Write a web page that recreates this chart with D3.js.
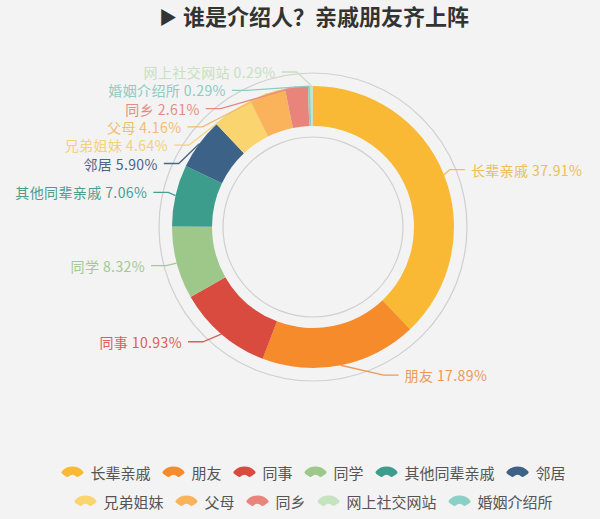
<!DOCTYPE html>
<html>
<head>
<meta charset="utf-8">
<script src="https://cdn.jsdelivr.net/npm/d3@7/dist/d3.min.js"></script>
<style>
  html, body { margin: 0; padding: 0; background: #f3f3f3; }
  svg { display: block; }
  text { font-family: "Noto Sans CJK SC", "Noto Sans", sans-serif; }
</style>
</head>
<body>
<svg id="chart" width="600" height="519"></svg>
<script>
// ---- data (legend order) ----
const categories = ['长辈亲戚','朋友','同事','同学','其他同辈亲戚','邻居','兄弟姐妹','父母','同乡','网上社交网站','婚姻介绍所'];
const values     = [37.91, 17.89, 10.93, 8.32, 7.06, 5.90, 4.64, 4.16, 2.61, 0.29, 0.29];
const colors     = ['#F9B935','#F68B2C','#D94A3F','#9DC88A','#3D9D8D','#3D6288','#FAD46F','#FAB35A','#E8847A','#C6E3BF','#8BD0C6'];
const labelColors = ['#EDBE55','#EE9A55','#DD5E58','#A3C994','#4A9E90','#4A6685','#F2D27A','#F3BC6E','#E48C84','#C8E0C2','#8CCCC3'];
// clockwise order of slices around the ring
const pieOrder   = ['长辈亲戚','朋友','同事','同学','其他同辈亲戚','邻居','兄弟姐妹','父母','同乡','婚姻介绍所','网上社交网站'];
const title = '谁是介绍人？亲戚朋友齐上阵';

const svg = d3.select('#chart');
const W = 600, H = 519;
svg.append('rect').attr('width', W).attr('height', H).attr('fill', '#f3f3f3');

// title
const tg = svg.append('g');
tg.append('text').attr('x', 159).attr('y', 24).attr('font-size', 18).attr('fill', '#333').text('▶');
tg.append('text').attr('x', 183).attr('y', 25).attr('font-size', 22).attr('font-weight', 'bold')
  .attr('fill', '#333').text(title);

const data = categories.map((c, i) => ({ name: c, value: values[i], color: colors[i], lcolor: labelColors[i] }));
const pieData = pieOrder.map(n => data.find(d => d.name === n));

const cx = 313, cy = 227, R0 = 141, Ri = 101;
const len2 = 15, lh = 18.3, RX = 165;

const g = svg.append('g');
// decorative circles
g.append('circle').attr('cx', cx).attr('cy', cy).attr('r', 154)
  .attr('fill', 'none').attr('stroke', '#cfcfcf').attr('stroke-width', 1.2);
g.append('circle').attr('cx', cx).attr('cy', cy).attr('r', 90)
  .attr('fill', 'none').attr('stroke', '#cfcfcf').attr('stroke-width', 1.2);

const pie = d3.pie().value(d => d.value).sort(null);
const arcs = pie(pieData);
const arc = d3.arc().innerRadius(Ri).outerRadius(R0);

g.selectAll('path.slice').data(arcs).join('path')
  .attr('class', 'slice')
  .attr('transform', `translate(${cx},${cy})`)
  .attr('d', arc)
  .attr('fill', d => d.data.color);

// ---- label layout ----
const labels = arcs.map(a => {
  const mid = (a.startAngle + a.endAngle) / 2;
  const s = Math.sin(mid), c = Math.cos(mid);
  const dir = s < 0 ? -1 : 1;
  const ry = c < 0 ? R0 + 10 : R0 + 14;
  return { d: a.data, dir, sx: cx + R0 * s, sy: cy - R0 * c, y: cy - ry * c };
});

function layoutSide(list, dir) {
  list.sort((a, b) => a.y - b.y);
  for (let i = 1; i < list.length; i++) {
    if (list[i].y < list[i - 1].y + lh) list[i].y = list[i - 1].y + lh;
  }
  const up = list.filter(l => l.y < cy), down = list.filter(l => l.y >= cy).reverse();
  [up, down].forEach(lst => {
    let last = 0;
    lst.forEach(l => {
      const dy = Math.min(Math.abs(l.y - 7 - cy), RX - 1);
      let dx = Math.sqrt(RX * RX - dy * dy);
      if (dx < last + 10) dx = last + 10;
      l.x = cx + dx * dir;
      last = dx;
    });
  });
}
layoutSide(labels.filter(l => l.dir < 0), -1);
layoutSide(labels.filter(l => l.dir > 0), 1);

const lineGen = d3.line();
const lg = svg.append('g');
labels.forEach(l => {
  const endX = l.x;
  const elbowX = endX - l.dir * len2;
  lg.append('path')
    .attr('d', lineGen([[l.sx, l.sy], [elbowX, l.y], [endX, l.y]]))
    .attr('fill', 'none').attr('stroke', l.d.lcolor).attr('stroke-width', 1.3);
  lg.append('text')
    .attr('x', endX + l.dir * 6).attr('y', l.y)
    .attr('dominant-baseline', 'central')
    .attr('text-anchor', l.dir < 0 ? 'end' : 'start')
    .attr('font-size', 14)
    .attr('letter-spacing', 0.4)
    .attr('fill', l.d.lcolor)
    .text(`${l.d.name} ${l.d.value.toFixed(2)}%`);
});

// ---- legend ----
const iconArc = d3.arc().innerRadius(6).outerRadius(14.5)
  .startAngle(-55 * Math.PI / 180).endAngle(55 * Math.PI / 180).cornerRadius(2);
const rows = [data.slice(0, 6), data.slice(6)];
const rowY = [472, 501];
const iconW = 24, iconGap = 6, itemGap = 11;
const legend = svg.append('g');
rows.forEach((row, ri) => {
  const rg = legend.append('g');
  let x = 0;
  row.forEach(d => {
    const ig = rg.append('g').attr('transform', `translate(${x},0)`);
    ig.append('path').attr('d', iconArc).attr('fill', d.color)
      .attr('transform', `translate(${iconW / 2},9)`);
    const t = ig.append('text').attr('x', iconW + iconGap).attr('y', 0)
      .attr('dominant-baseline', 'central').attr('font-size', 15).attr('fill', '#555').text(d.name);
    x += iconW + iconGap + t.node().getComputedTextLength() + itemGap;
  });
  const total = x - itemGap;
  rg.attr('transform', `translate(${cx - total / 2},${rowY[ri]})`);
});
</script>
</body>
</html>
